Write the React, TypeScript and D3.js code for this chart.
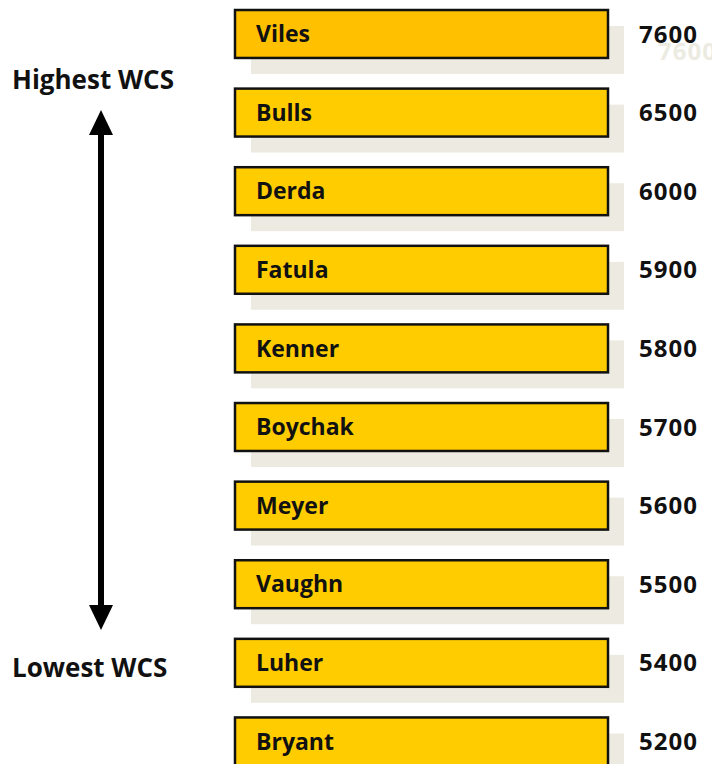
import React, { useEffect, useRef } from 'react';
import * as d3 from 'd3';

const names = ['Viles', 'Bulls', 'Derda', 'Fatula', 'Kenner', 'Boychak', 'Meyer', 'Vaughn', 'Luher', 'Bryant'];
const scores = [7600, 6500, 6000, 5900, 5800, 5700, 5600, 5500, 5400, 5200];
const sideLabels = ['Highest WCS', 'Lowest WCS'];

const FONT = '"Open Sans", Lato, sans-serif';

function App() {
    const ref = useRef<SVGSVGElement>(null);

    useEffect(() => {
        const svg = d3.select(ref.current);
        svg.selectAll('*').remove();

        const y = d3.scaleBand<string>()
            .domain(names)
            .range([10, 765.4])
            .paddingInner(0.39)
            .paddingOuter(0);

        const barX = 235;
        const barW = 373;
        const shadow = 16;

        const rows = svg.selectAll('g.row')
            .data(names)
            .enter()
            .append('g')
            .attr('class', 'row')
            .attr('transform', (d) => `translate(0,${y(d)})`);

        rows.append('rect')
            .attr('x', barX + shadow)
            .attr('y', shadow)
            .attr('width', barW)
            .attr('height', y.bandwidth())
            .attr('fill', '#edebe1');

        rows.append('rect')
            .attr('x', barX)
            .attr('y', 0)
            .attr('width', barW)
            .attr('height', y.bandwidth())
            .attr('fill', (d, i) => (i === 0 ? '#ffc000' : '#ffcc00'))
            .attr('stroke', '#111')
            .attr('stroke-width', 2.5);

        rows.append('text')
            .attr('x', barX + 21)
            .attr('y', y.bandwidth() / 2)
            .attr('dy', '0.36em')
            .style('font-family', FONT)
            .style('font-weight', 700)
            .style('font-size', '23px')
            .attr('fill', '#111')
            .text((d) => d);

        // faint echo of the top score
        rows.filter((d, i) => i === 0)
            .append('text')
            .attr('x', 658)
            .attr('y', y.bandwidth() / 2 + 17)
            .attr('dy', '0.36em')
            .style('font-family', FONT)
            .style('font-weight', 700)
            .style('font-size', '24px')
            .style('letter-spacing', '1px')
            .attr('fill', '#ecebe2')
            .text(scores[0]);

        rows.append('text')
            .attr('x', 639)
            .attr('y', y.bandwidth() / 2)
            .attr('dy', '0.36em')
            .style('font-family', FONT)
            .style('font-weight', 700)
            .style('font-size', '24px')
            .style('letter-spacing', '1px')
            .attr('fill', '#111')
            .text((d, i) => scores[i]);

        // double arrow
        const ax = 101;
        const top = 110;
        const bottom = 630;
        const head = 25;
        svg.append('line')
            .attr('x1', ax).attr('x2', ax)
            .attr('y1', top + head - 2).attr('y2', bottom - head + 2)
            .attr('stroke', '#000')
            .attr('stroke-width', 6);
        svg.append('path')
            .attr('d', `M${ax},${top}L${ax - 12},${top + head}L${ax + 12},${top + head}Z`)
            .attr('fill', '#000');
        svg.append('path')
            .attr('d', `M${ax},${bottom}L${ax - 12},${bottom - head}L${ax + 12},${bottom - head}Z`)
            .attr('fill', '#000');

        svg.selectAll('text.side')
            .data(sideLabels)
            .enter()
            .append('text')
            .attr('class', 'side')
            .attr('x', 12)
            .attr('y', (d, i) => (i === 0 ? 89 : 677))
            .style('font-family', FONT)
            .style('font-weight', 700)
            .style('font-size', '26px')
            .attr('fill', '#111')
            .text((d) => d);
    }, []);

    return (
        <svg ref={ref} width={712} height={764} style={{ position: 'absolute', left: 0, top: 0 }} />
    );
}

export default App;
